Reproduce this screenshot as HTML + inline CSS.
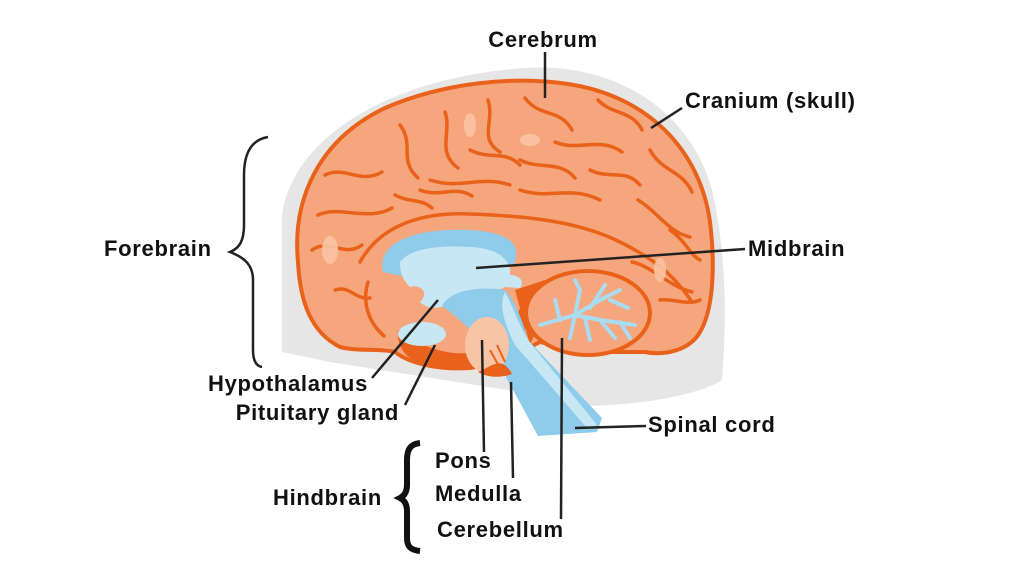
<!DOCTYPE html>
<html><head><meta charset="utf-8"><style>
html,body{margin:0;padding:0;background:#fff;}
svg{display:block;}
text{font-family:"Liberation Sans",sans-serif;font-weight:bold;font-size:22px;letter-spacing:0.7px;fill:#111;}
</style></head><body>
<svg width="1024" height="576" viewBox="0 0 1024 576" xmlns="http://www.w3.org/2000/svg">
<!-- cranium -->
<path d="M282,215 C292,140 385,78 525,68 C615,62 690,110 712,190 C728,260 726,330 722,380 C700,394 650,404 590,406 L520,392 L330,362 L282,352 Z" fill="#e6e6e6"/>
<!-- brain -->
<path d="M298,262 C292,200 318,140 385,108 C445,82 515,76 568,84 C648,96 700,150 710,222 C716,272 712,312 700,332 C690,350 665,356 645,352 L610,352 C580,350 560,346 540,342 C520,352 500,364 470,368 C440,370 410,364 395,352 C380,348 360,352 340,347 C310,332 300,300 298,262 Z" fill="#f6a67c" stroke="#e8621c" stroke-width="4"/>
<!-- gyri lines -->
<g fill="none" stroke="#e8621c" stroke-width="3.5" stroke-linecap="round">
<path d="M325,175 C345,165 360,185 382,172 M318,215 C340,205 368,222 392,208 M312,250 C328,238 345,258 362,245 M335,290 C350,285 355,300 370,298"/>
<path d="M400,125 C415,145 398,160 418,178 M445,112 C452,132 436,152 458,168 M488,100 C495,122 478,138 500,152 M420,190 C440,198 455,185 472,196"/>
<path d="M525,98 C540,118 560,108 572,130 M555,142 C578,152 600,136 622,152 M598,100 C612,115 632,110 642,130 M520,160 C540,170 560,160 575,178 M590,170 C610,180 625,168 640,185"/>
<path d="M650,150 C662,172 682,170 692,192 M638,200 C658,212 668,232 690,237 M632,262 C652,266 668,286 692,292 M660,300 C672,298 688,306 700,300 M670,230 C685,240 690,255 700,260"/>
<path d="M360,262 C380,226 420,212 470,214 C530,216 580,222 620,242 C650,257 672,272 692,302"/>
<path d="M430,180 C460,190 480,175 510,185 M520,190 C550,200 570,185 600,200 M395,195 C410,203 420,198 432,208 M470,150 C490,160 505,150 520,165"/>
<path d="M368,282 C362,302 368,322 384,336"/>
</g>
<g fill="#fbc4a4" opacity="0.9">
<ellipse cx="330" cy="250" rx="8" ry="14"/><ellipse cx="530" cy="140" rx="10" ry="6"/><ellipse cx="470" cy="125" rx="6" ry="12"/><ellipse cx="660" cy="270" rx="6" ry="12"/>
</g>
<!-- lower dark orange region -->
<path d="M398,330 C420,347 450,357 475,352 C495,347 510,332 528,292 L560,292 C532,302 522,332 522,347 C500,362 470,370 440,368 C415,366 396,354 398,330 Z" fill="#e8621c"/>
<path d="M515,290 L545,280 C560,278 575,285 585,295 C560,300 540,320 530,345 Z" fill="#e8621c"/>
<!-- cerebellum -->
<ellipse cx="588" cy="313" rx="62" ry="42" fill="#f6a67c" stroke="#e8621c" stroke-width="4"/>
<g stroke="#a9dcf2" stroke-width="4" fill="none" stroke-linecap="round">
<path d="M540,325 L575,315 L600,300 L620,290 M575,315 L600,320 L635,325 M575,315 L580,290 L575,280 M590,308 L605,285 M600,320 L615,338 M575,315 L570,338 M610,300 L628,308 M560,320 L555,300 M585,318 L590,340 M620,322 L630,338"/>
</g>
<!-- corpus callosum / thalamus -->
<path d="M383,272 C376,240 420,228 470,230 C510,232 522,245 514,264 L500,264 C495,250 470,247 440,249 C410,252 400,264 402,276 Z" fill="#8fcbeb"/>
<path d="M400,262 C410,248 440,245 470,247 C500,248 512,262 510,275 C520,275 525,282 520,288 L505,287 C495,292 470,297 455,302 C445,307 430,312 420,302 C430,292 420,284 410,287 C400,277 400,268 400,262 Z" fill="#c8e7f5"/>
<!-- brainstem -->
<path d="M442,306 C450,290 480,286 505,290 C515,300 522,320 528,340 L602,418 L597,432 L538,436 L505,375 C493,350 468,325 442,306 Z" fill="#8fcbeb"/>
<path d="M505,292 C515,310 520,330 532,345 L597,425 L587,428 L515,345 C505,325 498,305 505,292 Z" fill="#c8e7f5"/>
<!-- pons -->
<ellipse cx="487" cy="345" rx="22" ry="28" fill="#f8c4a6"/>
<path d="M478,372 C492,366 502,355 512,374 C502,378 488,378 478,372 Z" fill="#e8621c"/>
<g stroke="#e8621c" stroke-width="2"><line x1="490" y1="350" x2="500" y2="368"/><line x1="497" y1="345" x2="505" y2="362"/></g>
<!-- pituitary -->
<ellipse cx="422" cy="334" rx="24" ry="12" fill="#c8e7f5"/>
<!-- leader lines -->
<g stroke="#222" stroke-width="2.5" fill="none">
<line x1="545" y1="52" x2="545" y2="98"/>
<line x1="682" y1="108" x2="651" y2="128"/>
<line x1="745" y1="249" x2="476" y2="268"/>
<line x1="372" y1="378" x2="438" y2="300"/>
<line x1="405" y1="405" x2="435" y2="345"/>
<line x1="575" y1="428" x2="646" y2="426"/>
<line x1="482" y1="340" x2="484" y2="452"/>
<line x1="511" y1="382" x2="513" y2="478"/>
<line x1="562" y1="338" x2="561" y2="519"/>
</g>
<!-- forebrain brace -->
<path d="M268,137 C250,140 244,155 244,175 L244,225 C244,240 240,248 230,252 C240,256 253,262 253,280 L253,350 C253,360 256,366 262,367" fill="none" stroke="#222" stroke-width="2.5"/>
<!-- hindbrain brace -->
<path d="M420,443 C410,444 407,450 407,460 L407,485 C407,492 404,496 400,498 C404,500 407,504 407,511 L407,538 C407,546 410,550 420,551" fill="none" stroke="#111" stroke-width="6"/>
<text x="543" y="47" text-anchor="middle">Cerebrum</text>
<text x="685" y="108">Cranium (skull)</text>
<text x="104" y="256">Forebrain</text>
<text x="748" y="256">Midbrain</text>
<text x="368" y="391" text-anchor="end">Hypothalamus</text>
<text x="399" y="420" text-anchor="end">Pituitary gland</text>
<text x="648" y="432">Spinal cord</text>
<text x="435" y="468">Pons</text>
<text x="273" y="505">Hindbrain</text>
<text x="435" y="501">Medulla</text>
<text x="437" y="537">Cerebellum</text>
</svg>
</body></html>
